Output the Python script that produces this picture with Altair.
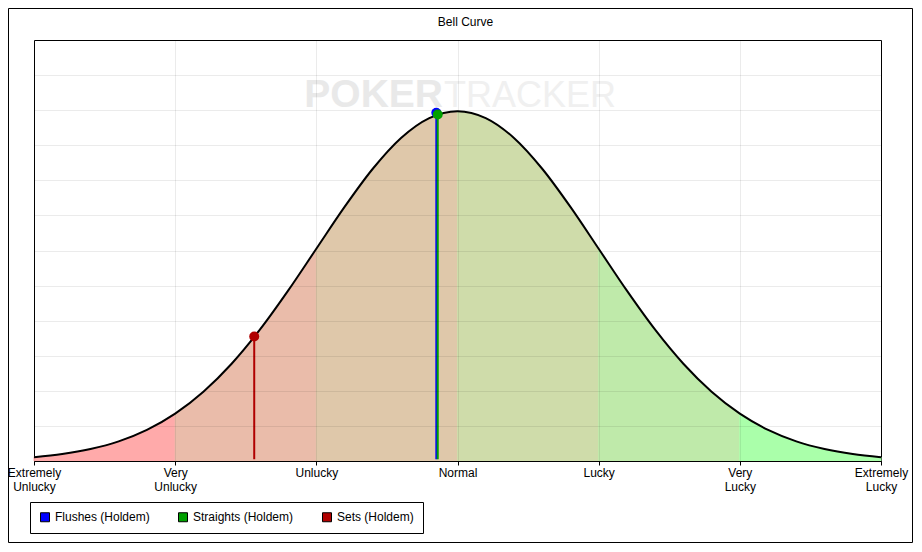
import altair as alt
import pandas as pd

# ---- data ----
curve_x = [-3.0, -2.8, -2.6, -2.4, -2.2, -2.0, -1.8, -1.6, -1.4, -1.2, -1.0,
           -0.8, -0.6, -0.4, -0.2, 0.0, 0.2, 0.4, 0.6, 0.8, 1.0,
           1.2, 1.4, 1.6, 1.8, 2.0, 2.2, 2.4, 2.6, 2.8, 3.0]
curve_y = [0.44, 0.79, 1.36, 2.24, 3.55, 5.40, 7.90, 11.09, 14.97, 19.42, 24.20,
           28.97, 33.32, 36.83, 39.10, 39.89, 39.10, 36.83, 33.32, 28.97, 24.20,
           19.42, 14.97, 11.09, 7.90, 5.40, 3.55, 2.24, 1.36, 0.79, 0.44]

band_names = ["b1", "b2", "b3", "b4", "b5", "b6"]
band_edges = [-3, -2, -1, 0, 1, 2, 3]
band_colors = ["#ffaaaa", "#eabcaa", "#dfc8aa", "#cfdcaa", "#bfeaaa", "#aaffaa"]

series_names = ["Flushes (Holdem)", "Straights (Holdem)", "Sets (Holdem)"]
series_x = [-0.15, -0.14, -1.44]
series_y = [39.7, 39.5, 14.2]
series_colors = ["#0000ff", "#00a000", "#b00000"]

tick_values = [-3, -2, -1, 0, 1, 2, 3]
tick_labels = [["Extremely", "Unlucky"], ["Very", "Unlucky"], ["Unlucky"], ["Normal"],
               ["Lucky"], ["Very", "Lucky"], ["Extremely", "Lucky"]]
grid_y = [4, 8, 12, 16, 20, 24, 28, 32, 36, 40, 44]

chart_title = "Bell Curve"

# ---- tables ----
curve_df = pd.DataFrame({"x": curve_x, "y": curve_y})
rows = []
for i, name in enumerate(band_names):
    lo, hi = band_edges[i], band_edges[i + 1]
    for xv, yv in zip(curve_x, curve_y):
        if lo - 1e-9 <= xv <= hi + 1e-9:
            rows.append({"x": xv, "y": yv, "band": name})
band_df = pd.DataFrame(rows)
series_df = pd.DataFrame({"series": series_names, "x": series_x, "y": series_y})

expr = "''"
for v, lab in reversed(list(zip(tick_values, tick_labels))):
    arr = "[" + ",".join("'" + s + "'" for s in lab) + "]"
    expr = f"datum.value == {v} ? {arr} : ({expr})"

FONT = "Liberation Sans"
W, H = 847, 421

xs = alt.Scale(domain=[-3, 3], nice=False, zero=False)
ys = alt.Scale(domain=[0, 48], nice=False, zero=False)

x_axis = alt.Axis(values=tick_values, title=None, grid=True, gridColor="#000000",
                  gridOpacity=0.08, tickSize=4, tickColor="#000000",
                  domainColor="#000000", labelExpr=expr, labelFont=FONT,
                  labelFontSize=12, labelColor="#000000", labelPadding=2,
                  labelLineHeight=14, labelFlush=False, labelOverlap=False, zindex=1)
y_axis = alt.Axis(values=grid_y, title=None, grid=True, gridColor="#000000",
                  gridOpacity=0.08, domain=False, ticks=False, labels=False, zindex=1)

title_mark = alt.Chart(pd.DataFrame({"t": [chart_title]})).mark_text(
    font=FONT, fontSize=12, color="#000000", align="center", baseline="middle"
).encode(x=alt.value(431.5), y=alt.value(-18), text="t:N")

watermark1 = alt.Chart(pd.DataFrame({"t": ["POKER"]})).mark_text(
    font=FONT, fontSize=39, fontWeight="bold", color="#e9e9e9",
    align="right", baseline="alphabetic"
).encode(x=alt.value(409), y=alt.value(67), text="t:N")
watermark2 = alt.Chart(pd.DataFrame({"t": ["TRACKER"]})).mark_text(
    font=FONT, fontSize=36, color="#f0f0f0",
    align="left", baseline="alphabetic"
).encode(x=alt.value(410), y=alt.value(67), text="t:N")

areas = alt.Chart(band_df).mark_area(interpolate="monotone", opacity=1, strokeWidth=1).encode(
    x=alt.X("x:Q", scale=xs, axis=x_axis),
    y=alt.Y("y:Q", scale=ys, axis=y_axis, stack=None),
    fill=alt.Fill("band:N", scale=alt.Scale(domain=band_names, range=band_colors), legend=None),
    stroke=alt.Stroke("band:N", scale=alt.Scale(domain=band_names, range=band_colors), legend=None),
)

line = alt.Chart(curve_df).mark_line(interpolate="monotone", color="#000000", strokeWidth=2).encode(
    x=alt.X("x:Q", scale=xs),
    y=alt.Y("y:Q", scale=ys),
)

rules = alt.Chart(series_df).mark_rule(strokeWidth=2).encode(
    x=alt.X("x:Q", scale=xs),
    y=alt.Y("y:Q", scale=ys),
    y2=alt.datum(0.2),
    stroke=alt.Stroke("series:N", scale=alt.Scale(domain=series_names, range=series_colors), legend=None),
)

points = alt.Chart(series_df).mark_circle(size=100, opacity=1).encode(
    x=alt.X("x:Q", scale=xs),
    y=alt.Y("y:Q", scale=ys),
    color=alt.Color("series:N", scale=alt.Scale(domain=series_names, range=series_colors),
                    legend=alt.Legend(orient="none", legendX=-4, legendY=462, direction="horizontal",
                                      title=None, symbolType="square", symbolSize=81,
                                      symbolStrokeColor="#000000", symbolStrokeWidth=1,
                                      strokeColor="#000000", fillColor="#ffffff", padding=9,
                                      columnPadding=26, labelOffset=4, labelFont=FONT,
                                      labelFontSize=12, labelColor="#000000", labelLimit=0)),
)

border = alt.Chart(pd.DataFrame({"a": [0]})).mark_rect(
    fillOpacity=0, stroke="#000000", strokeWidth=1
).encode(x=alt.value(-25.5), x2=alt.value(878.5), y=alt.value(-31.5), y2=alt.value(502.5))

chart = alt.layer(watermark1, watermark2, areas, line, rules, points, title_mark, border).resolve_scale(
    color="independent", stroke="independent", fill="independent"
).properties(
    width=W, height=H,
    autosize=alt.AutoSizeParams(type="none"),
    padding={"left": 26, "top": 32, "right": 32, "bottom": 82},
    background="#ffffff",
).configure_view(stroke="#000000", strokeWidth=1)

chart.save("out.html", embed_options={"renderer": "svg", "actions": False})
